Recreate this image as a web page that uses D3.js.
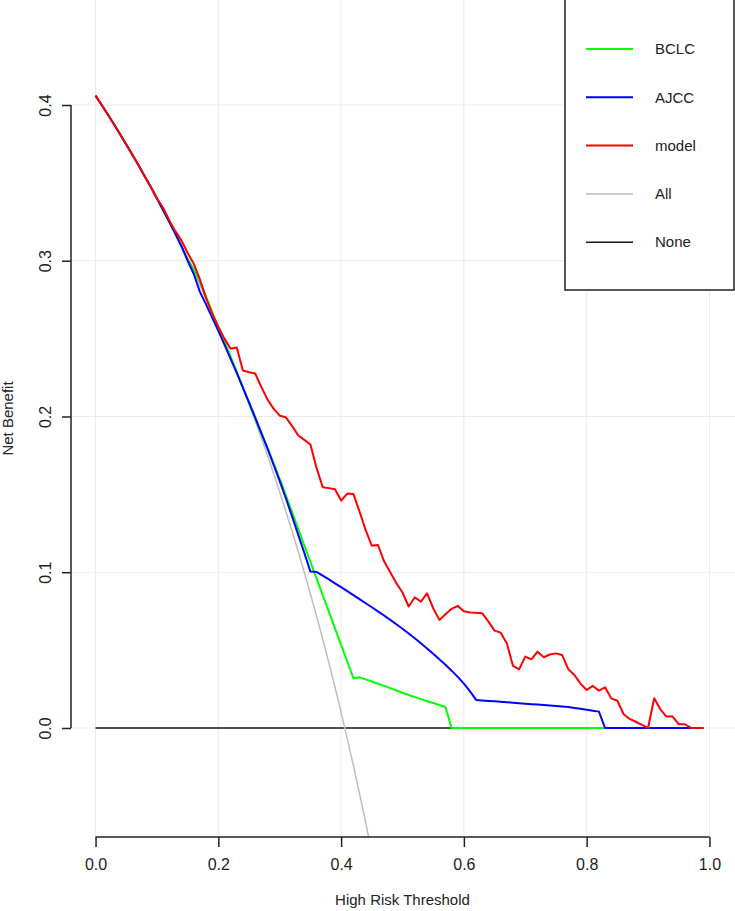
<!DOCTYPE html>
<html>
<head>
<meta charset="utf-8">
<script src="https://cdn.jsdelivr.net/npm/d3@7/dist/d3.min.js"></script>
<style>
  html, body { margin: 0; padding: 0; background: #fff; }
  svg { display: block; font-family: 'Liberation Sans', Arial, sans-serif; }
</style>
</head>
<body>
<div id="dca"></div>
<script>
// decision curve: net benefit per threshold
const thresholds = [0.00,0.01,0.02,0.03,0.04,0.05,0.06,0.07,0.08,0.09,
  0.10,0.11,0.12,0.13,0.14,0.15,0.16,0.17,0.18,0.19,
  0.20,0.21,0.22,0.23,0.24,0.25,0.26,0.27,0.28,0.29,
  0.30,0.31,0.32,0.33,0.34,0.35,0.36,0.37,0.38,0.39,
  0.40,0.41,0.42,0.43,0.44,0.45,0.46,0.47,0.48,0.49,
  0.50,0.51,0.52,0.53,0.54,0.55,0.56,0.57,0.58,0.59,
  0.60,0.61,0.62,0.63,0.64,0.65,0.66,0.67,0.68,0.69,
  0.70,0.71,0.72,0.73,0.74,0.75,0.76,0.77,0.78,0.79,
  0.80,0.81,0.82,0.83,0.84,0.85,0.86,0.87,0.88,0.89,
  0.90,0.91,0.92,0.93,0.94,0.95,0.96,0.97,0.98,0.99];

const bclc = [0.406,0.400,0.3939,0.3876,0.3812,0.3747,0.3681,0.3613,0.3543,0.3473,
  0.3400,0.3326,0.3250,0.3173,0.3093,0.3012,0.2945,0.2865,0.2770,0.2670,
  0.2575,0.2481,0.2384,0.2286,0.2186,0.2085,0.1985,0.1890,0.1800,0.1700,
  0.1600,0.1493,0.1387,0.1280,0.1173,0.1067,0.0960,0.0853,0.0747,0.0640,
  0.0533,0.0427,0.0320,0.0325,0.0312,0.0298,0.0284,0.0270,0.0256,0.0241,
  0.0226,0.0212,0.0198,0.0185,0.0172,0.0160,0.0148,0.0135,0,0,
  0,0,0,0,0,0,0,0,0,0,
  0,0,0,0,0,0,0,0,0,0,
  0,0,0,0,0,0,0,0,0,0,
  0,0,0,0,0,0,0,0,0,0];

const ajcc = [0.406,0.400,0.3939,0.3876,0.3812,0.3747,0.3681,0.3613,0.3543,0.3473,
  0.3400,0.3326,0.3250,0.3173,0.3093,0.3000,0.2915,0.2800,0.2720,0.2635,
  0.2550,0.2462,0.2370,0.2280,0.2185,0.2090,0.1995,0.1895,0.1795,0.1690,
  0.1585,0.1475,0.1360,0.1242,0.1125,0.1004,0.1002,0.0978,0.0954,0.0929,
  0.0904,0.0879,0.0853,0.0827,0.0801,0.0775,0.0749,0.0722,0.0694,0.0666,
  0.0637,0.0607,0.0576,0.0544,0.0511,0.0477,0.0442,0.0406,0.0368,0.0328,
  0.0285,0.0235,0.0180,0.0177,0.0174,0.0171,0.0168,0.0165,0.0162,0.0159,
  0.0156,0.0153,0.0150,0.0147,0.0144,0.0141,0.0138,0.0134,0.0129,0.0123,
  0.0117,0.0111,0.0105,0,0,0,0,0,0,0,
  0,0,0,0,0,0,0,0,0,0];

const model = [0.406,0.400,0.3939,0.3876,0.3812,0.3747,0.3681,0.3613,0.3543,0.3473,
  0.3400,0.3340,0.3260,0.3190,0.3130,0.3050,0.2980,0.2880,0.2760,0.2660,
  0.2575,0.2500,0.2435,0.2443,0.2295,0.2284,0.2276,0.2190,0.2110,0.2050,
  0.2005,0.1995,0.1940,0.1880,0.1850,0.1820,0.1670,0.1546,0.1540,0.1533,
  0.1460,0.1505,0.1503,0.1390,0.1270,0.1170,0.1175,0.1070,0.1000,0.0930,
  0.0870,0.0780,0.0839,0.0811,0.0865,0.0769,0.0694,0.0730,0.0765,0.0784,
  0.0750,0.0742,0.0740,0.0736,0.0683,0.0625,0.0612,0.0543,0.0398,0.0377,
  0.0458,0.0441,0.0490,0.0454,0.0472,0.0479,0.0469,0.0378,0.0340,0.0285,
  0.0244,0.0270,0.0240,0.0261,0.0190,0.0175,0.0090,0.0058,0.0040,0.0020,
  0.0000,0.0191,0.0120,0.0073,0.0073,0.0024,0.0024,0,0,0];

// treat-all curve, read until it leaves the plot
const allThresholds = thresholds.slice(0, 46);
const treatAll = [0.406,0.400,0.3939,0.3876,0.3812,0.3747,0.3681,0.3613,0.3543,0.3473,
  0.3400,0.3326,0.3250,0.3173,0.3093,0.3012,0.2929,0.2843,0.2756,0.2667,
  0.2575,0.2481,0.2384,0.2286,0.2184,0.2080,0.1973,0.1863,0.1750,0.1634,
  0.1514,0.1391,0.1265,0.1135,0.1000,0.0861,0.0719,0.0571,0.0419,0.0263,
  0.0100,-0.0068,-0.0241,-0.0421,-0.0607,-0.0800];

const noneThresholds = [0, 0.99];
const treatNone = [0, 0];

const xTicks = [0, 0.2, 0.4, 0.6, 0.8, 1.0];
const yTicks = [0, 0.1, 0.2, 0.3, 0.4];

const series = [
  {name: 'None',  xs: noneThresholds, ys: treatNone, color: '#1a1a1a', width: 1.5},
  {name: 'All',   xs: allThresholds,  ys: treatAll,  color: '#bebebe', width: 1.5},
  {name: 'BCLC',  xs: thresholds,     ys: bclc,      color: '#00ff00', width: 2},
  {name: 'AJCC',  xs: thresholds,     ys: ajcc,      color: '#0000ff', width: 2},
  {name: 'model', xs: thresholds,     ys: model,     color: '#ff0000', width: 2}
];
const legendOrder = ['BCLC', 'AJCC', 'model', 'All', 'None'];

const W = 735, H = 911;
const plot = {left: 71, right: 734, top: 0, bottom: 837};

const svg = d3.select('#dca')
  .append('svg')
  .attr('width', W)
  .attr('height', H);

const x = d3.scaleLinear().domain([-0.04, 1.04]).range([plot.left, plot.right]);
const y = d3.scaleLinear().domain([-0.07, 0.4]).range([plot.bottom, 105]);

svg.append('defs').append('clipPath').attr('id', 'clip')
  .append('rect')
  .attr('x', plot.left).attr('y', plot.top)
  .attr('width', plot.right - plot.left).attr('height', plot.bottom - plot.top);

// grid
const grid = svg.append('g').attr('stroke', '#ebebeb').attr('stroke-width', 1);
grid.selectAll('line.v')
  .data(xTicks)
  .enter().append('line')
  .attr('class', 'v')
  .attr('x1', d => x(d)).attr('x2', d => x(d))
  .attr('y1', plot.top).attr('y2', plot.bottom);
grid.selectAll('line.h')
  .data(yTicks)
  .enter().append('line')
  .attr('class', 'h')
  .attr('x1', plot.left).attr('x2', W)
  .attr('y1', d => y(d)).attr('y2', d => y(d));

// curves
const line = d3.line().x(d => x(d[0])).y(d => y(d[1]));
svg.append('g')
  .attr('clip-path', 'url(#clip)')
  .selectAll('path')
  .data(series)
  .enter().append('path')
  .attr('d', s => line(s.xs.map((t, i) => [t, s.ys[i]])))
  .attr('fill', 'none')
  .attr('stroke', s => s.color)
  .attr('stroke-width', s => s.width)
  .attr('stroke-linejoin', 'round');

// axes (R style: line spans first to last tick)
const xAxis = svg.append('g')
  .attr('transform', `translate(0, ${plot.bottom})`)
  .call(d3.axisBottom(x).tickValues(xTicks).tickFormat(d3.format('.1f')).tickSizeOuter(0).tickSize(10).tickPadding(12));
xAxis.select('.domain').attr('d', `M${x(0)},0H${x(1)}`);

const yAxis = svg.append('g')
  .attr('transform', `translate(${plot.left}, 0)`)
  .call(d3.axisLeft(y).tickValues(yTicks).tickFormat(d3.format('.1f')).tickSizeOuter(0).tickSize(9));
yAxis.select('.domain').attr('d', `M0,${y(0)}V${y(0.4)}`);
yAxis.selectAll('.tick text')
  .attr('x', null).attr('dy', null)
  .attr('transform', 'translate(-26, 0) rotate(-90)')
  .attr('text-anchor', 'middle')
  .attr('dominant-baseline', 'central');

svg.selectAll('.domain, .tick line').attr('stroke', '#222').attr('stroke-width', 1.5);
svg.selectAll('.tick text').attr('fill', '#222').attr('font-size', 16).attr('font-family', null);

// titles
svg.append('text')
  .attr('x', (plot.left + plot.right) / 2).attr('y', 905)
  .attr('text-anchor', 'middle')
  .attr('font-size', 15).attr('fill', '#222')
  .text('High Risk Threshold');
svg.append('text')
  .attr('transform', `translate(13, ${plot.bottom / 2}) rotate(-90)`)
  .attr('text-anchor', 'middle')
  .attr('font-size', 15).attr('fill', '#222')
  .text('Net Benefit');

// legend
const legend = svg.append('g');
legend.append('rect')
  .attr('x', 565).attr('y', -5)
  .attr('width', 169).attr('height', 295)
  .attr('fill', '#fff').attr('stroke', '#222').attr('stroke-width', 1.5);
const items = legend.selectAll('g.item')
  .data(legendOrder.map(n => series.find(s => s.name === n)))
  .enter().append('g')
  .attr('class', 'item')
  .attr('transform', (d, i) => `translate(0, ${49 + i * 48.3})`);
items.append('line')
  .attr('x1', 586).attr('x2', 633)
  .attr('stroke', d => d.color)
  .attr('stroke-width', d => d.width);
items.append('text')
  .attr('x', 655).attr('dy', '0.35em')
  .attr('font-size', 15).attr('fill', '#222')
  .text(d => d.name);
</script>
</body>
</html>
